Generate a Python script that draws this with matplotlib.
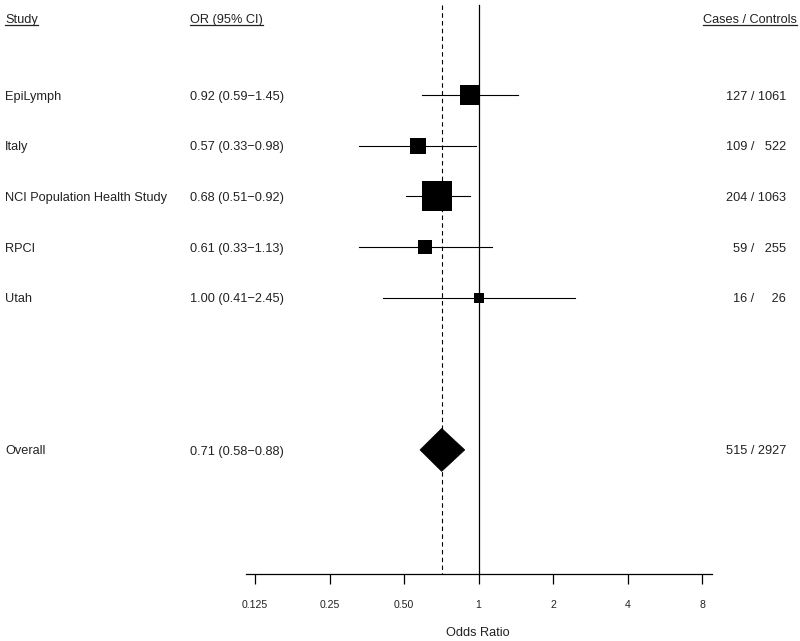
import numpy as np
import matplotlib
matplotlib.use("Agg")
import matplotlib.pyplot as plt
from matplotlib.transforms import blended_transform_factory
from matplotlib.lines import Line2D
from matplotlib.patches import Polygon

plt.rcParams["font.family"] = ["Liberation Sans", "DejaVu Sans"]

# Study data
studies = ["EpiLymph", "Italy", "NCI Population Health Study", "RPCI", "Utah"]
odds = [0.92, 0.57, 0.68, 0.61, 1.00]
lower = [0.59, 0.33, 0.51, 0.33, 0.41]
upper = [1.45, 0.98, 0.92, 1.13, 2.45]
cases = [127, 109, 204, 59, 16]
controls = [1061, 522, 1063, 255, 26]

overall_or = 0.71
overall_lo = 0.58
overall_hi = 0.88

tick_vals = [0.125, 0.25, 0.5, 1, 2, 4, 8]
tick_labels = ["0.125", "0.25", "0.50", "1", "2", "4", "8"]

W, H = 800, 641
fig = plt.figure(figsize=(W / 100, H / 100), dpi=100)
# axes spans the plot region: x 246..712 px, y 0..574 px (top-down)
ax = fig.add_axes([246 / W, (H - 574) / H, 466 / W, 574 / H])
ax.set_xscale("log", base=2)
ax.set_xlim(2 ** -3.121, 2 ** 3.134)
row_px = 50.7
ax.set_ylim((574 - 95) / row_px, -95 / row_px)

for s in ["top", "left", "right"]:
    ax.spines[s].set_visible(False)
ax.spines["bottom"].set_linewidth(0.9)
ax.set_yticks([])
ax.set_xticks(tick_vals)
ax.set_xticklabels(tick_labels)
ax.minorticks_off()
ax.tick_params(axis="x", length=7.5, width=0.9, pad=11.5, labelsize=7.6,
               labelcolor="#222222")

ink = "#222222"
top_row = -90 / row_px
bottom_row = (574 - 95) / row_px

# reference lines
ax.plot([1, 1], [top_row, bottom_row], color="black", lw=0.9, clip_on=False)
ax.plot([overall_or, overall_or], [top_row, bottom_row], color="black", lw=0.8,
        ls=(0, (4, 3)), clip_on=False)

# study rows
ys = np.arange(len(studies))
for y, o, lo, hi in zip(ys, odds, lower, upper):
    se = (np.log(hi) - np.log(lo)) / 3.92
    side_px = 4.4 / se
    ax.plot([lo, hi], [y, y], color="black", lw=0.8)
    ax.plot(o, y, marker="s", ms=side_px * 0.72, mew=0, color="black")

# overall diamond
y_over = 7
half_h = 21.5 / row_px
diamond = Polygon([[overall_lo, y_over], [overall_or, y_over - half_h],
                   [overall_hi, y_over], [overall_or, y_over + half_h]],
                  closed=True, facecolor="black", edgecolor="black", lw=0.5)
ax.add_patch(diamond)

# text columns (baseline placed ~4.5 px below row centre)
tr = blended_transform_factory(fig.transFigure, ax.transData)
fs = 9.2
dy = 4.6 / row_px


def put(x, y, s, ha="left"):
    return ax.text(x / W, y + dy, s, transform=tr, fontsize=fs, va="baseline",
                   ha=ha, color=ink)


def cc(a, b):
    return ("  " * (3 - len(str(a))) + f"{a} / " +
            "  " * (4 - len(str(b))) + f"{b}")


for y, name, o, lo, hi, a, b in zip(ys, studies, odds, lower, upper, cases, controls):
    put(5, y, name)
    put(190, y, f"{o:.2f} ({lo:.2f}\u2212{hi:.2f})")
    put(786, y, cc(a, b), ha="right")

put(5, y_over, "Overall")
put(190, y_over, f"{overall_or:.2f} ({overall_lo:.2f}\u2212{overall_hi:.2f})")
put(786, y_over, cc(sum(cases), sum(controls)), ha="right")

# header with underlines
y_head = (18 - 95) / row_px
headers = [
    put(5, y_head, "Study"),
    put(190, y_head, "OR (95% CI)"),
    put(797, y_head, "Cases / Controls", ha="right"),
]
fig.canvas.draw()
renderer = fig.canvas.get_renderer()
inv = fig.transFigure.inverted()
for t in headers:
    bb = t.get_window_extent(renderer)
    (x0, y0), (x1, _) = inv.transform([[bb.x0, bb.y0], [bb.x1, bb.y1]])
    fig.add_artist(Line2D([x0, x1], [y0 + 0.5 / H, y0 + 0.5 / H],
                          transform=fig.transFigure, color=ink, lw=0.9))

fig.text(478 / W, (H - 636) / H, "Odds Ratio", ha="center", va="baseline",
         fontsize=9.2, color=ink)

fig.savefig("out.png", dpi=100)
